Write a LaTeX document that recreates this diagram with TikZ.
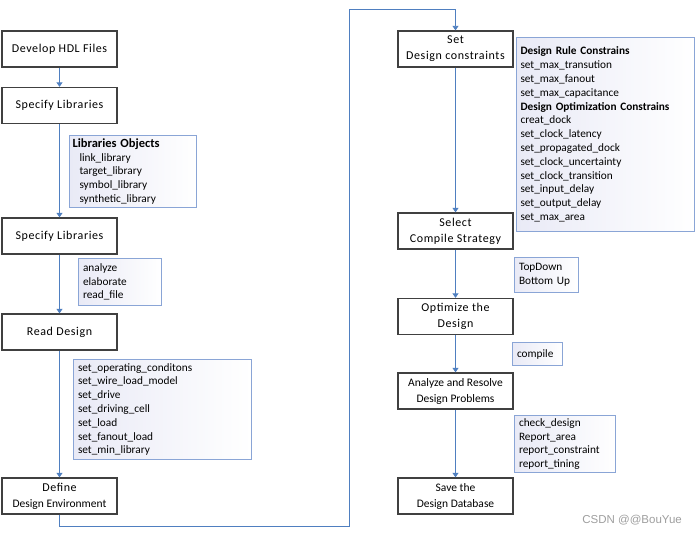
\documentclass[tikz,border=0pt]{standalone}
\usepackage{fontspec}
\setmainfont{Carlito}
\newfontfamily\spacedfont[LetterSpace=5]{Carlito}
\newfontfamily\wmfont{Liberation Sans}
\usetikzlibrary{arrows.meta}
\definecolor{arrowblue}{HTML}{4F7FC0}
\definecolor{listblue}{HTML}{8AA5D6}
\definecolor{boxgray}{HTML}{404040}
\definecolor{lav}{HTML}{E9EAF6}
\tikzset{
  mainbox/.style={draw=boxgray, line width=1.3pt, fill=white, minimum width=115pt, minimum height=36pt, inner sep=1pt, align=center, font=\fontsize{11.5}{16}\selectfont},
  listbox/.style={draw=listblue, line width=1pt, left color=lav, right color=white, anchor=north west, inner xsep=4.5pt, inner ysep=0pt, align=left, font=\fontsize{11.3}{13.8}\selectfont},
  flow/.style={draw=arrowblue, line width=0.9pt, -{Triangle[width=6pt,length=4.5pt]}},
  loopline/.style={draw=arrowblue, line width=0.9pt}
}
\newcommand{\spc}[1]{{\spacedfont\fontsize{12}{16}\selectfont #1}}
\begin{document}
\begin{tikzpicture}[x=1pt,y=-1pt]
\useasboundingbox (0,0) rectangle (697,535);
% left column
\node[mainbox] (dev) at (59.5,49) {\spc{Develop HDL Files}};
\node[mainbox] (spec1) at (59.5,105.5) {\spc{Specify Libraries}};
\node[mainbox] (spec2) at (59.5,236) {\spc{Specify Libraries}};
\node[mainbox] (read) at (59.5,332) {\spc{Read Design}};
\node[mainbox] (define) at (59.5,496) {\spc{Define}\\Design Environment};
% right column
\node[mainbox] (set) at (455.5,49) {\spc{Set}\\\spc{Design constraints}};
\node[mainbox] (select) at (455.5,231) {\spc{Select}\\\spc{Compile Strategy}};
\node[mainbox] (optimize) at (455.5,316.5) {\spc{Optimize the}\\\spc{Design}};
\node[mainbox] (analyze) at (455.5,391) {Analyze and Resolve\\Design Problems};
\node[mainbox] (save) at (455.5,496) {Save the\\Design Database};
% list boxes
\node[listbox, inner xsep=3pt, text width=121pt, minimum height=72pt] (libobj) at (69,135)
  {{\fontsize{12.5}{13.8}\selectfont\textbf{Libraries Objects}}\\\hspace*{7pt}link\_library\\\hspace*{7pt}target\_library\\\hspace*{7pt}symbol\_library\\\hspace*{7pt}synthetic\_library};
\node[listbox, text width=74pt, minimum height=47pt] (readcmd) at (78,258)
  {analyze\\elaborate\\read\_file};
\node[listbox, text width=169pt, minimum height=100pt] (envcmd) at (73,359)
  {set\_operating\_conditons\\set\_wire\_load\_model\\set\_drive\\set\_driving\_cell\\set\_load\\set\_fanout\_load\\set\_min\_library};
\node[listbox, inner xsep=4pt, text width=170pt, minimum height=194pt] (rules) at (516,37)
  {\textbf{Design Rule Constrains}\\set\_max\_transution\\set\_max\_fanout\\set\_max\_capacitance\\\textbf{Design Optimization Constrains}\\creat\_dock\\set\_clock\_latency\\set\_propagated\_dock\\set\_clock\_uncertainty\\set\_clock\_transition\\set\_input\_delay\\set\_output\_delay\\set\_max\_area};
\node[listbox, text width=55pt, minimum height=35pt] (strategy) at (514,257)
  {TopDown\\Bottom Up};
\node[listbox, text width=41pt, minimum height=23pt] (compile) at (512,342)
  {compile};
\node[listbox, text width=92pt, minimum height=57pt] (checks) at (514,415)
  {check\_design\\Report\_area\\report\_constraint\\report\_tining};
% connectors
\draw[flow] (dev) -- (spec1);
\draw[flow] (spec1) -- (spec2);
\draw[flow] (spec2) -- (read);
\draw[flow] (read) -- (define);
\coordinate (c1) at (349,526);
\coordinate (c2) at (349,9);
\draw[flow] (define.south) |- (c1) -- (c2) -| (set.north);
\draw[flow] (set) -- (select);
\draw[flow] (select) -- (optimize);
\draw[flow] (optimize) -- (analyze);
\draw[flow] (analyze) -- (save);
% watermark
\node[anchor=east, text=black!38, inner sep=0pt, font=\wmfont\fontsize{11.5}{13}\selectfont] (wm) at (682,520) {CSDN @@BouYue};
\end{tikzpicture}
\end{document}
